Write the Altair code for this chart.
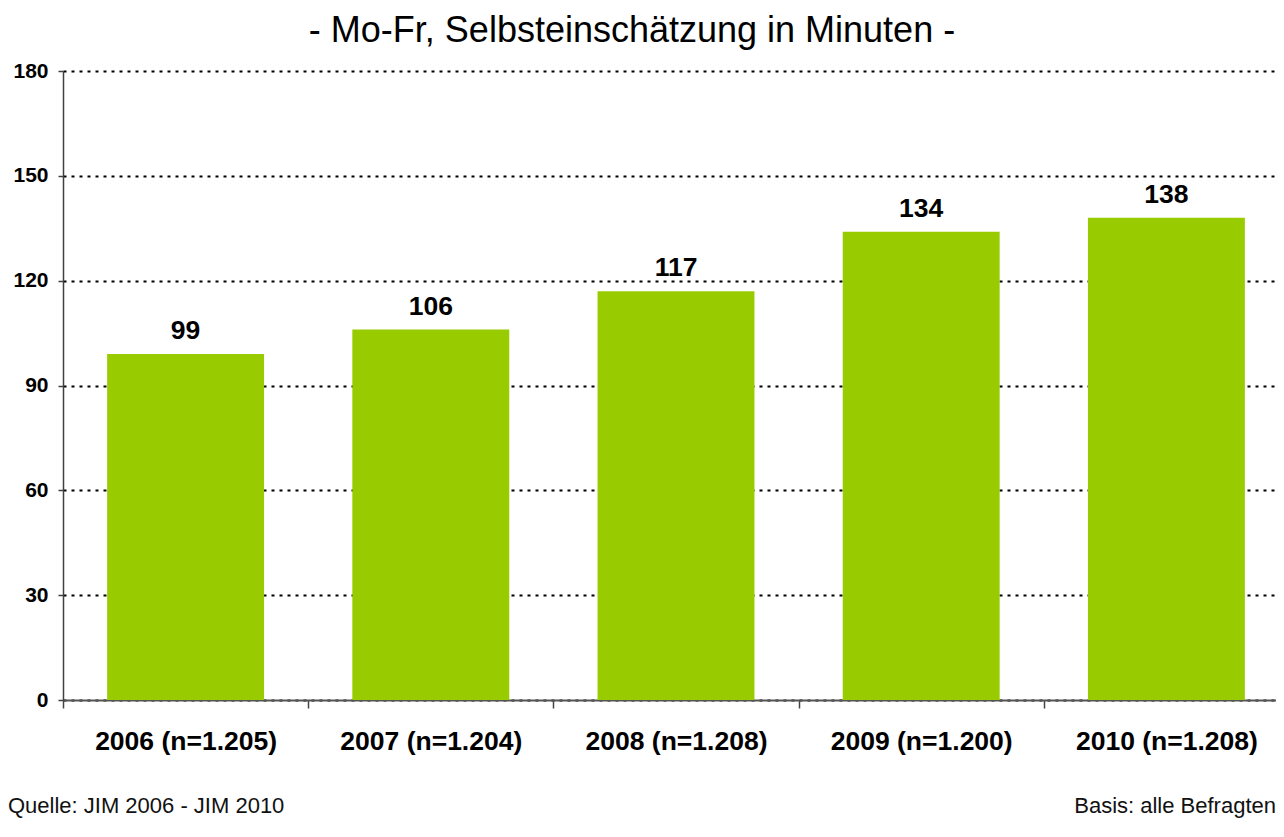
import altair as alt
import pandas as pd

categories = ["2006 (n=1.205)", "2007 (n=1.204)", "2008 (n=1.208)", "2009 (n=1.200)", "2010 (n=1.208)"]
values = [99, 106, 117, 134, 138]
y_ticks = [0, 30, 60, 90, 120, 150, 180]
title_text = "- Mo-Fr, Selbsteinschätzung in Minuten -"
source_text = "Quelle: JIM 2006 - JIM 2010"
basis_text = "Basis: alle Befragten"

df = pd.DataFrame({"label": categories, "value": values})

FONT = "Liberation Sans"
W, H = 1213, 629

x_enc = alt.X(
    "label:N",
    sort=categories,
    scale=alt.Scale(range=[0, 1226], paddingInner=0, paddingOuter=0),
    axis=alt.Axis(
        title=None, labelAngle=0, tickBand="extent", tickSize=8, tickColor="#444444",
        tickWidth=1.5, labelPadding=20, labelFont=FONT, labelFontSize=26.5,
        labelFontWeight="bold", labelColor="#000000", domainColor="#555555",
        domainWidth=2, grid=False, labelLimit=400,
    ),
)
y_enc = alt.Y(
    "value:Q",
    scale=alt.Scale(domain=[0, 180]),
    axis=alt.Axis(
        title=None, values=y_ticks, tickSize=5, tickColor="#404040", tickWidth=1.5,
        labelPadding=10, labelFont=FONT, labelFontSize=21, labelFontWeight="bold",
        labelColor="#000000", domainColor="#404040", domainWidth=1.5,
        grid=True, gridColor="#000000", gridDash=[3, 5], gridWidth=2,
    ),
)

base = alt.Chart(df)
bars = base.mark_bar(color="#99CC00", width=alt.RelativeBandSize(0.64)).encode(x=x_enc, y=y_enc)
labels = base.mark_text(
    font=FONT, fontSize=26.5, fontWeight="bold", color="#000000", dy=-15, baseline="alphabetic"
).encode(x=alt.X("label:N", sort=categories), y="value:Q", text="value:Q")

title = alt.Chart(pd.DataFrame({"t": [title_text]})).mark_text(
    font=FONT, fontSize=36, color="#000000", align="center", baseline="alphabetic"
).encode(x=alt.value(569), y=alt.value(-29), text="t:N")

src = alt.Chart(pd.DataFrame({"t": [source_text]})).mark_text(
    font=FONT, fontSize=22, color="#111111", align="left", baseline="alphabetic"
).encode(x=alt.value(-55), y=alt.value(742), text="t:N")

basis = alt.Chart(pd.DataFrame({"t": [basis_text]})).mark_text(
    font=FONT, fontSize=22, color="#111111", align="right", baseline="alphabetic"
).encode(x=alt.value(W), y=alt.value(742), text="t:N")

chart = alt.layer(bars, labels, title, src, basis).properties(
    width=W, height=H,
    autosize=alt.AutoSizeParams(type="none"),
    padding={"left": 55, "top": 63, "right": 0, "bottom": 120},
    background="#ffffff",
).configure_view(stroke=None)

chart.save("out.html", embed_options={"renderer": "svg", "actions": False})
